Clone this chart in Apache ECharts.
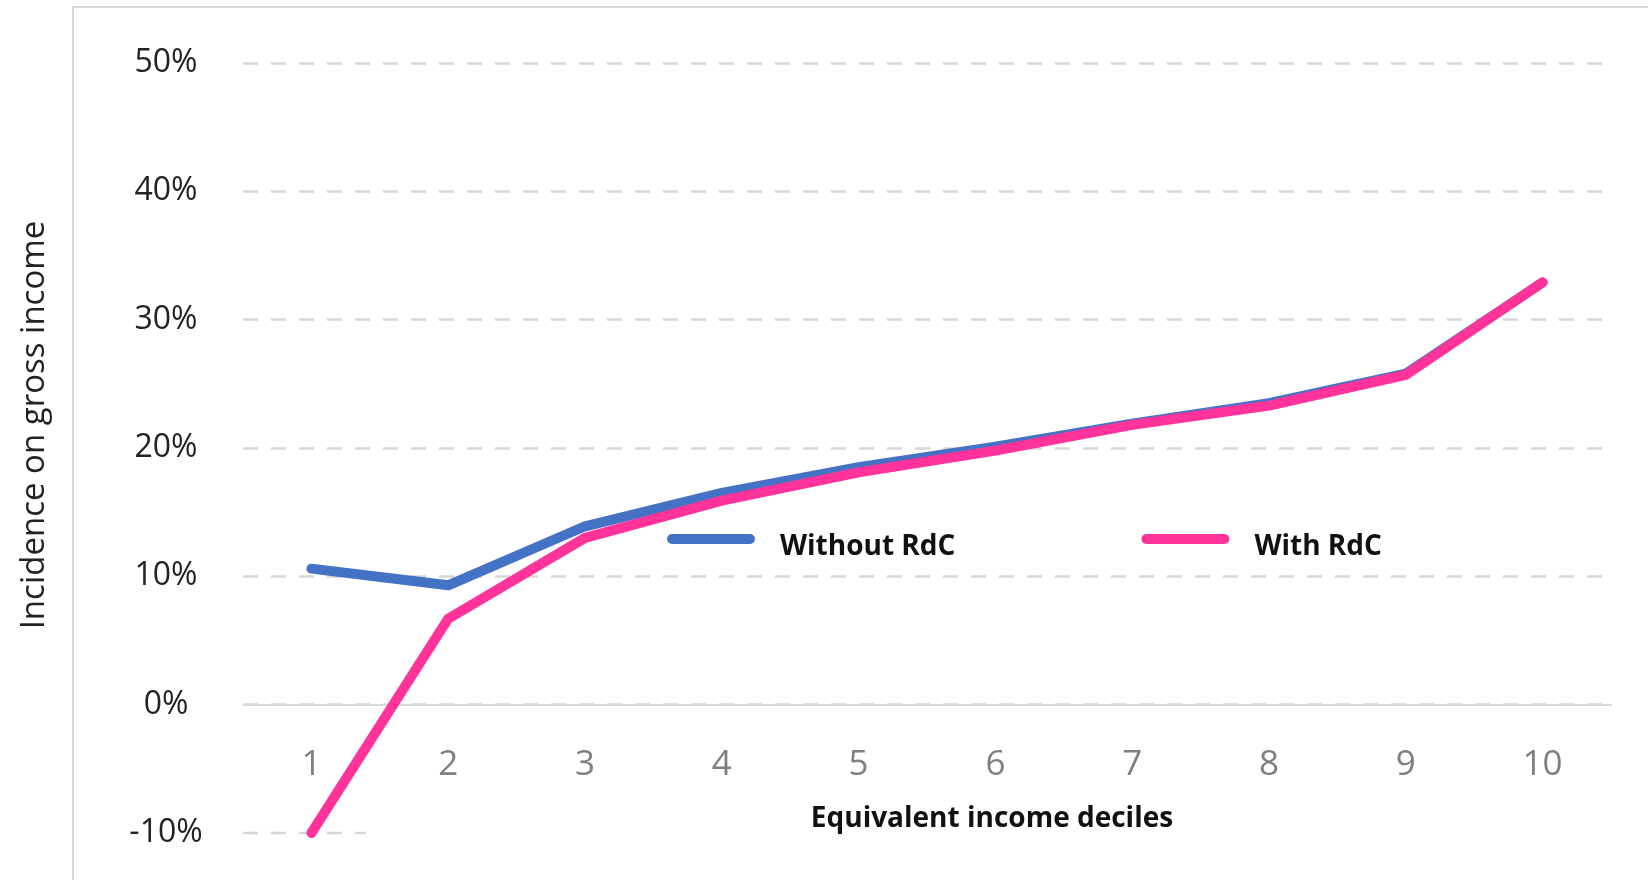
<!DOCTYPE html>
<html>
<head>
<meta charset="utf-8">
<title>Incidence on gross income</title>
<script src="https://cdn.jsdelivr.net/npm/echarts@6/dist/echarts.min.js"></script>
<style>
    html, body { margin: 0; padding: 0; background: #fff; }
    #main { width: 1648px; height: 880px; }
</style>
</head>
<body>
<div id="main"></div>
<script>
// deciles on the x axis
var deciles = ['1', '2', '3', '4', '5', '6', '7', '8', '9', '10'];

// incidence in percent
var withoutRdC = [10.6, 9.3, 13.9, 16.5, 18.5, 20.1, 21.9, 23.5, 25.8, 32.9];
var withRdC = [-10.0, 6.7, 13.0, 15.9, 18.1, 19.8, 21.8, 23.3, 25.7, 32.9];

var seriesNames = ['Without RdC', 'With RdC'];
var seriesColors = ['#4472c4', '#ff3399'];

var yMin = -10;
var yMax = 50;

var myChart = echarts.init(document.getElementById('main'));

// capsule shaped legend mark
var capsule = 'path://M5,0 L83,0 A5,5 0 0 1 83,10 L5,10 A5,5 0 0 1 5,0 Z';

var gridTop = 63;
var gridBottom = 47;
var plotHeight = 880 - gridTop - gridBottom;
// x axis sits on the 0% line
var zeroOffset = -plotHeight * (0 - yMin) / (yMax - yMin);

var gridLineStyle = { color: '#d6d6d6', width: 2.5, type: [15, 13] };
var frame = {
    // outer frame of the original chart area
    type: 'rect',
    silent: true,
    z: -10,
    shape: { x: 73, y: 7, width: 1700, height: 1000 },
    style: { fill: 'none', stroke: '#d9d9d9', lineWidth: 2 }
};

var option = {
    backgroundColor: '#fff',
    animation: false,
    grid: {
        left: 243,
        right: 37,
        top: gridTop,
        bottom: gridBottom,
        outerBoundsMode: 'none'
    },
    legend: {
        left: 662,
        top: 528,
        itemWidth: 88,
        itemHeight: 11,
        itemGap: 186,
        icon: capsule,
        formatter: '{t|{name}}',
        textStyle: {
            rich: {
                t: {
                    fontFamily: '"Open Sans", sans-serif',
                    fontWeight: 'bold',
                    fontSize: 28,
                    color: '#111',
                    padding: [16, 0, 0, 20]
                }
            }
        },
        data: seriesNames
    },
    xAxis: {
        type: 'category',
        data: deciles,
        offset: zeroOffset,
        name: 'Equivalent income deciles',
        nameLocation: 'middle',
        nameGap: 100,
        nameMoveOverlap: false,
        nameTextStyle: {
            fontFamily: '"Open Sans", sans-serif',
            fontWeight: 'bold',
            fontSize: 28,
            color: '#111',
            padding: [0, 0, 0, 130]
        },
        axisLine: {
            onZero: false,
            lineStyle: { color: '#d9d9d9', width: 2 }
        },
        axisTick: { show: false },
        axisLabel: {
            margin: 43,
            fontFamily: '"Open Sans", sans-serif',
            fontSize: 35,
            color: '#7f7f7f'
        }
    },
    yAxis: {
        type: 'value',
        min: yMin,
        max: yMax,
        interval: 10,
        name: 'Incidence on gross income',
        nameLocation: 'middle',
        nameGap: 192,
        nameTextStyle: {
            fontFamily: '"Open Sans", sans-serif',
            fontSize: 33,
            color: '#222',
            padding: [0, 0, 0, 46]
        },
        axisLine: { show: false },
        axisTick: { show: false },
        axisLabel: {
            margin: 77,
            align: 'center',
            fontFamily: '"Open Sans", sans-serif',
            fontSize: 32,
            color: '#222',
            formatter: '{value}%'
        },
        splitLine: {
            showMinLine: false,
            lineStyle: gridLineStyle
        }
    },
    graphic: [frame],
    series: [{
        name: seriesNames[0],
        type: 'line',
        data: withoutRdC,
        symbol: 'none',
        color: seriesColors[0],
        lineStyle: { width: 10, cap: 'round', join: 'round' },
        z: 2
    }, {
        name: seriesNames[1],
        type: 'line',
        data: withRdC,
        symbol: 'none',
        color: seriesColors[1],
        lineStyle: { width: 10, cap: 'round', join: 'round' },
        z: 3
    }]
};

myChart.setOption(option);

// only a short piece of the -10% gridline is visible in the original
var p0 = myChart.convertToPixel({ gridIndex: 0 }, [0, yMin]);
var p1 = myChart.convertToPixel({ gridIndex: 0 }, [1, yMin]);
var step = p1[0] - p0[0];
myChart.setOption({
    graphic: [frame, {
        type: 'line',
        silent: true,
        z: 0,
        shape: { x1: p0[0] - step / 2, y1: p0[1], x2: p0[0] + step * 0.4, y2: p0[1] },
        style: { stroke: gridLineStyle.color, lineWidth: gridLineStyle.width, lineDash: gridLineStyle.type }
    }]
});
</script>
</body>
</html>
